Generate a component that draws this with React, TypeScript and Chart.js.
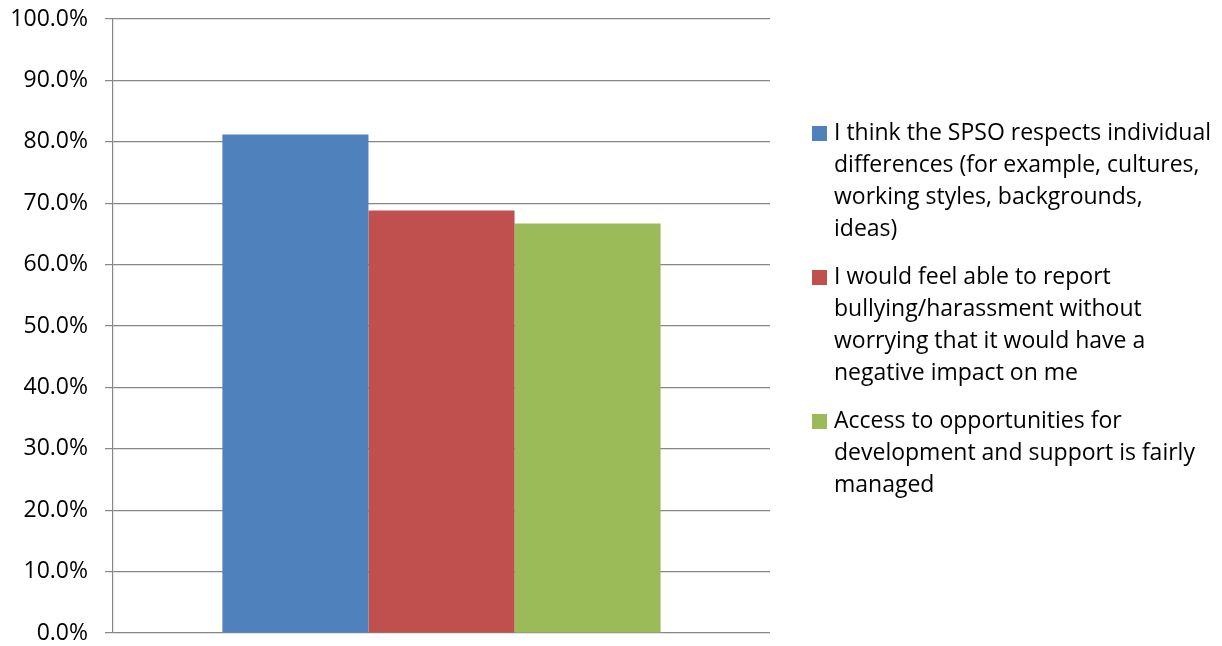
import React, { useEffect, useRef } from "react";
import { Chart, registerables } from "chart.js";

Chart.register(...registerables);

const categories = [""];
const seriesNames: string[][] = [
  [
    "I think the SPSO respects individual",
    "differences (for example, cultures,",
    "working styles, backgrounds,",
    "ideas)",
  ],
  [
    "I would feel able to report",
    "bullying/harassment without",
    "worrying that it would have a",
    "negative impact on me",
  ],
  [
    "Access to opportunities for",
    "development and support is fairly",
    "managed",
  ],
];
const seriesValues = [81.2, 68.8, 66.7];
const seriesColors = ["#4F81BD", "#C0504D", "#9BBB59"];
const yMin = 0;
const yMax = 100;
const yStep = 10;

const FONT = '"Open Sans", "Liberation Sans", sans-serif';

const legendPlugin = {
  id: "sideLegend",
  afterDraw(chart: any) {
    const ctx = chart.ctx as CanvasRenderingContext2D;
    ctx.save();
    ctx.font = `23px ${FONT}`;
    ctx.textBaseline = "middle";
    ctx.textAlign = "left";
    let y = 133;
    const lineH = 32;
    const itemGap = 16;
    seriesNames.forEach((lines, i) => {
      ctx.fillStyle = seriesColors[i];
      ctx.fillRect(812, y - 7, 15, 15);
      ctx.fillStyle = "#000";
      lines.forEach((ln, j) => {
        ctx.fillText(ln, 834, y + j * lineH);
      });
      y += lines.length * lineH + itemGap;
    });
    ctx.restore();
  },
};

export default function App() {
  const ref = useRef<HTMLCanvasElement | null>(null);
  useEffect(() => {
    if (!ref.current) return;
    const chart = new Chart(ref.current, {
      type: "bar",
      data: {
        labels: categories,
        datasets: seriesNames.map((n, i) => ({
          label: n.join(" "),
          data: [seriesValues[i]],
          backgroundColor: seriesColors[i],
          borderWidth: 0,
          categoryPercentage: 0.667,
          barPercentage: 1,
        })),
      },
      options: {
        animation: false,
        responsive: true,
        maintainAspectRatio: false,
        layout: { padding: { top: 19, right: 452, bottom: 13, left: 0 } },
        plugins: { legend: { display: false }, tooltip: { enabled: false } },
        scales: {
          x: { display: false },
          y: {
            min: yMin,
            max: yMax,
            afterFit: (scale: any) => {
              scale.width = 113;
              scale.paddingTop = 0;
              scale.paddingBottom = 0;
            },
            ticks: {
              stepSize: yStep,
              padding: 17,
              color: "#000",
              font: { family: FONT, size: 23 },
              callback: (v: any) => Number(v).toFixed(1) + "%",
            },
            grid: { color: "#868686", lineWidth: 1.2, tickLength: 8 },
            border: { color: "#868686", width: 1.2 },
          },
        },
      },
      plugins: [legendPlugin],
    });
    return () => chart.destroy();
  }, []);
  return (
    <div style={{ position: "absolute", left: 0, top: 0, width: 1222, height: 646, background: "#fff" }}>
      <canvas ref={ref} />
    </div>
  );
}
